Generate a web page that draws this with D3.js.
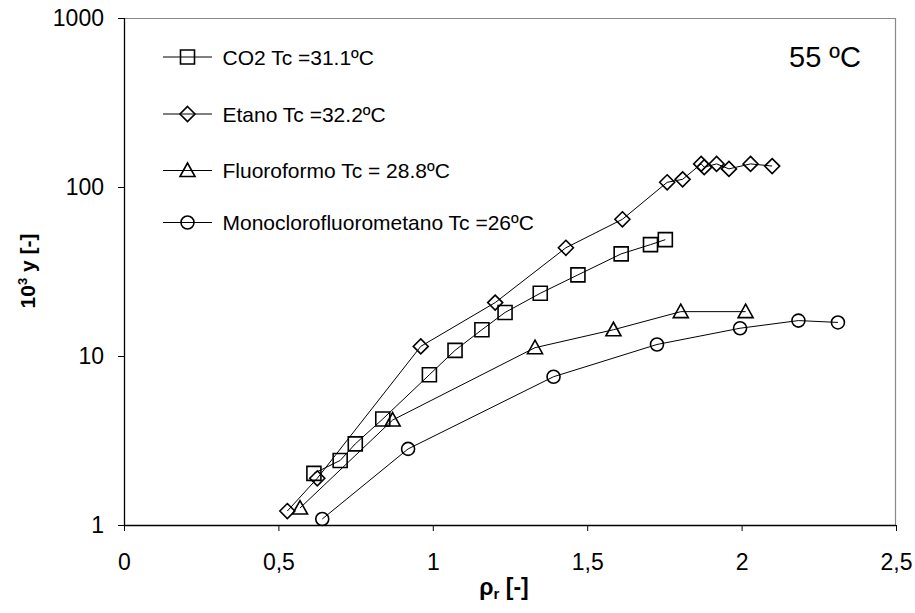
<!DOCTYPE html>
<html>
<head>
<meta charset="utf-8">
<script src="https://cdn.jsdelivr.net/npm/d3@7"></script>
<style>
  html, body { margin: 0; padding: 0; background: #fff; }
  svg { display: block; font-family: "Liberation Sans", Arial, sans-serif; }
</style>
</head>
<body>
<svg id="chart" width="915" height="613"></svg>
<script>
// ---- Data ----
const co2X = [0.615, 0.700, 0.749, 0.838, 0.989, 1.072, 1.159, 1.234, 1.348, 1.470, 1.610, 1.705, 1.753];
const co2Y = [2.02, 2.41, 3.02, 4.24, 7.75, 10.8, 14.3, 18.1, 23.5, 30.2, 40.2, 45.6, 48.8];

const etanoX = [0.529, 0.626, 0.961, 1.202, 1.431, 1.614, 1.759, 1.809, 1.869, 1.879, 1.919, 1.959, 2.029, 2.099];
const etanoY = [1.21, 1.89, 11.4, 20.7, 43.7, 64.4, 106.6, 111, 137, 131, 137, 128, 137, 133];

const fluoroX = [0.570, 0.870, 1.331, 1.585, 1.803, 2.013];
const fluoroY = [1.26, 4.18, 11.2, 14.3, 18.3, 18.3];

const monoX = [0.642, 0.920, 1.391, 1.726, 1.995, 2.184, 2.312];
const monoY = [1.085, 2.82, 7.54, 11.7, 14.6, 16.2, 15.8];

const seriesNames = ["CO2 Tc =31.1ºC", "Etano Tc =32.2ºC", "Fluoroformo Tc = 28.8ºC", "Monoclorofluorometano Tc =26ºC"];
const seriesMarkers = ["square", "diamond", "triangle", "circle"];

const xTicks = [0, 0.5, 1, 1.5, 2, 2.5];
const xTickLabels = ["0", "0,5", "1", "1,5", "2", "2,5"];
const yTicks = [1, 10, 100, 1000];
const yTickLabels = ["1", "10", "100", "1000"];
const annotation = "55 ºC";

// ---- Layout ----
const svg = d3.select("#chart");
const plot = { left: 124, right: 896, top: 18, bottom: 525 };

const x = d3.scaleLinear().domain([0, 2.5]).range([plot.left, plot.right]);
const y = d3.scaleLog().domain([1, 1000]).range([plot.bottom, plot.top]);

const series = [
  { name: seriesNames[0], marker: seriesMarkers[0], xs: co2X, ys: co2Y },
  { name: seriesNames[1], marker: seriesMarkers[1], xs: etanoX, ys: etanoY },
  { name: seriesNames[2], marker: seriesMarkers[2], xs: fluoroX, ys: fluoroY },
  { name: seriesNames[3], marker: seriesMarkers[3], xs: monoX, ys: monoY }
];

function markerPath(type) {
  switch (type) {
    case "square": return "M-7,-7H7V7H-7Z";
    case "diamond": return "M0,-7.5L7.5,0L0,7.5L-7.5,0Z";
    case "triangle": return "M0,-7.5L7.5,6L-7.5,6Z";
    case "circle": return "M-6.5,0A6.5,6.5 0 1,0 6.5,0A6.5,6.5 0 1,0 -6.5,0Z";
  }
}

// Frame: top/right gray
svg.append("line").attr("x1", plot.left).attr("x2", plot.right).attr("y1", plot.top + 0.5).attr("y2", plot.top + 0.5)
  .attr("stroke", "#888").attr("stroke-width", 1.2);
svg.append("line").attr("x1", plot.right - 0.5).attr("x2", plot.right - 0.5).attr("y1", plot.top).attr("y2", plot.bottom)
  .attr("stroke", "#888").attr("stroke-width", 1.2);

// Axes
const xAxis = d3.axisBottom(x).tickValues(xTicks).tickSize(6).tickPadding(23)
  .tickFormat((d, i) => xTickLabels[i]);
const gx = svg.append("g").attr("transform", `translate(0,${plot.bottom})`).call(xAxis);
gx.select(".domain").attr("stroke", "#000").attr("stroke-width", 1.3).attr("d", `M${plot.left},0.5H${plot.right}`);
gx.selectAll(".tick line").attr("stroke", "#000").attr("stroke-width", 1);
gx.selectAll(".tick text").attr("font-size", 23).attr("fill", "#000")
  .attr("font-family", "'Liberation Sans', Arial, sans-serif");

const yAxis = d3.axisLeft(y).tickValues(yTicks).tickSize(6).tickPadding(14)
  .tickFormat((d, i) => yTickLabels[i]);
const gy = svg.append("g").attr("transform", `translate(${plot.left},0)`).call(yAxis);
gy.select(".domain").attr("stroke", "#000").attr("stroke-width", 1.3).attr("d", `M0.5,${plot.top}V${plot.bottom}`);
gy.selectAll(".tick line").attr("stroke", "#000").attr("stroke-width", 1);
gy.selectAll(".tick text").attr("font-size", 23).attr("fill", "#000")
  .attr("font-family", "'Liberation Sans', Arial, sans-serif");

// Series lines & markers
const line = d3.line().x(d => x(d[0])).y(d => y(d[1]));
series.forEach(s => {
  const pts = s.xs.map((v, i) => [v, s.ys[i]]);
  svg.append("path").datum(pts).attr("d", line)
    .attr("fill", "none").attr("stroke", "#000").attr("stroke-width", 1);
  svg.append("g").selectAll("path").data(pts).join("path")
    .attr("transform", d => `translate(${x(d[0])},${y(d[1])})`)
    .attr("d", markerPath(s.marker))
    .attr("fill", "none").attr("stroke", "#000").attr("stroke-width", 1.6);
});

// Legend
const legendRows = [57, 114, 170.5, 222.5];
const legend = svg.append("g");
series.forEach((s, i) => {
  const ly = legendRows[i];
  legend.append("line").attr("x1", 163).attr("x2", 212).attr("y1", ly).attr("y2", ly)
    .attr("stroke", "#000").attr("stroke-width", 1);
  legend.append("path").attr("transform", `translate(187.5,${ly})`).attr("d", markerPath(s.marker))
    .attr("fill", "none").attr("stroke", "#000").attr("stroke-width", 1.6);
  legend.append("text").attr("x", 222.5).attr("y", ly + 7.5).attr("font-size", 21).attr("fill", "#000")
    .text(s.name);
});

// Annotation
svg.append("text").attr("x", 789).attr("y", 66.5).attr("font-size", 29).attr("fill", "#000").text(annotation);

// Axis titles
const xt = svg.append("text").attr("x", 504).attr("y", 595).attr("text-anchor", "middle")
  .attr("font-size", 23).attr("font-weight", "bold").attr("fill", "#000");
xt.append("tspan").text("ρ");
xt.append("tspan").attr("font-size", 15).attr("dy", 4).text("r");
xt.append("tspan").attr("dy", -4).text(" [-]");

const yt = svg.append("text").attr("transform", `translate(35,271) rotate(-90)`).attr("text-anchor", "middle")
  .attr("font-size", 21).attr("font-weight", "bold").attr("fill", "#000");
yt.append("tspan").text("10");
yt.append("tspan").attr("font-size", 13).attr("dy", -8).text("3");
yt.append("tspan").attr("dy", 8).text(" y [-]");
</script>
</body>
</html>
